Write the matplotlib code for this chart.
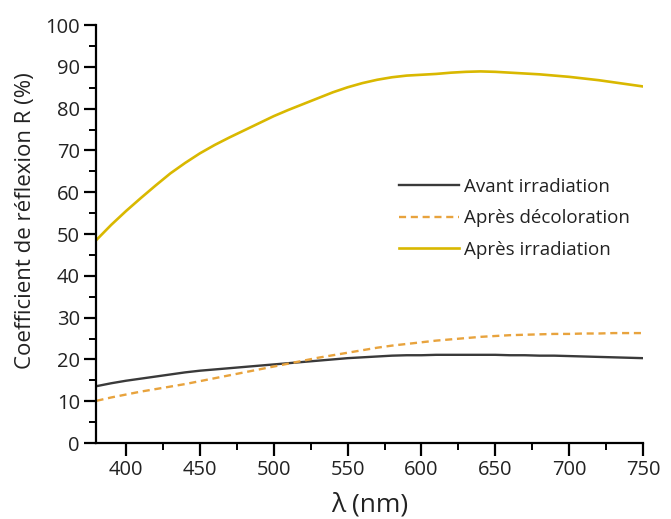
import matplotlib
matplotlib.use("Agg")
import matplotlib.pyplot as plt
from matplotlib.ticker import MultipleLocator

plt.rcParams['font.family'] = ['Open Sans', 'DejaVu Sans']

# Wavelength grid (nm)
wavelength = [380, 390, 400, 410, 420, 430, 440, 450, 460, 470, 480, 490,
              500, 510, 520, 530, 540, 550, 560, 570, 580, 590, 600, 610,
              620, 630, 640, 650, 660, 670, 680, 690, 700, 710, 720, 730,
              740, 750]

# Reflection coefficient R (%)
avant_irradiation = [13.6, 14.3, 14.9, 15.4, 15.9, 16.4, 16.9, 17.3, 17.6, 17.9,
                     18.2, 18.5, 18.8, 19.1, 19.4, 19.7, 20.0, 20.3, 20.5, 20.7,
                     20.9, 21.0, 21.0, 21.1, 21.1, 21.1, 21.1, 21.1, 21.0, 21.0,
                     20.9, 20.9, 20.8, 20.7, 20.6, 20.5, 20.4, 20.3]

apres_decoloration = [10.1, 10.9, 11.6, 12.3, 12.9, 13.5, 14.1, 14.8, 15.5, 16.2,
                      16.9, 17.6, 18.3, 19.0, 19.7, 20.4, 21.0, 21.6, 22.2, 22.8,
                      23.3, 23.7, 24.1, 24.5, 24.8, 25.1, 25.4, 25.6, 25.8, 25.9,
                      26.0, 26.1, 26.1, 26.2, 26.2, 26.3, 26.3, 26.3]

apres_irradiation = [48.6, 52.2, 55.5, 58.6, 61.6, 64.5, 67.0, 69.3, 71.3, 73.1,
                     74.8, 76.5, 78.2, 79.7, 81.1, 82.5, 83.9, 85.1, 86.1, 86.9,
                     87.5, 87.9, 88.1, 88.3, 88.6, 88.8, 88.9, 88.8, 88.6, 88.4,
                     88.2, 87.9, 87.6, 87.2, 86.8, 86.3, 85.8, 85.3]

fig = plt.figure(figsize=(6.71, 5.19), dpi=100)
ax = fig.add_axes([0.1438, 0.1464, 0.8145, 0.8054])

ax.plot(wavelength, avant_irradiation, color='#3a3a3a', lw=1.7,
        label='Avant irradiation')
ax.plot(wavelength, apres_decoloration, color='#e8a33d', lw=1.7,
        ls=(0, (3, 2)), label='Après décoloration')
ax.plot(wavelength, apres_irradiation, color='#d9b800', lw=1.9,
        label='Après irradiation')

ax.set_xlim(380, 750)
ax.set_ylim(0, 100)
ax.xaxis.set_major_locator(MultipleLocator(50))
ax.xaxis.set_minor_locator(MultipleLocator(25))
ax.yaxis.set_major_locator(MultipleLocator(10))
ax.yaxis.set_minor_locator(MultipleLocator(5))

for s in ('top', 'right'):
    ax.spines[s].set_visible(False)
for s in ('left', 'bottom'):
    ax.spines[s].set_linewidth(1.6)
    ax.spines[s].set_color('black')

ax.tick_params(which='major', direction='out', length=9, width=1.6,
               labelsize=14.5, colors='black', pad=3)
ax.tick_params(which='minor', direction='out', length=5, width=1.4,
               colors='black')
for lbl in ax.get_xticklabels() + ax.get_yticklabels():
    lbl.set_color('#222222')

ax.set_xlabel('λ (nm)', fontsize=19, labelpad=9, color='#222222')
ax.set_ylabel('Coefficient de réflexion R (%)', fontsize=16, color='#222222')
ax.yaxis.set_label_coords(-0.11, 0.533)

leg = ax.legend(loc='upper left', bbox_to_anchor=(0.539, 0.652), frameon=False,
                fontsize=13.5, handlelength=3.2, handletextpad=0.3,
                labelspacing=0.72, borderaxespad=0)
for t in leg.get_texts():
    t.set_color('#222222')

fig.savefig('out.png', dpi=100)
